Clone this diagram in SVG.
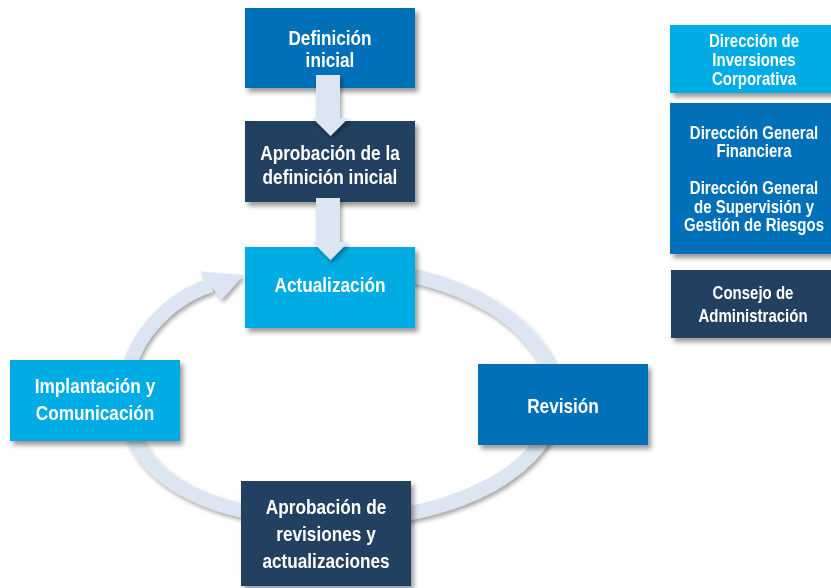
<svg xmlns="http://www.w3.org/2000/svg" width="831" height="588" viewBox="0 0 831 588">
<defs>
<filter id="sh" x="-20%" y="-20%" width="150%" height="150%">
<feDropShadow dx="3" dy="4" stdDeviation="2.5" flood-color="#000" flood-opacity="0.4"/>
</filter>
<filter id="shr" x="-20%" y="-20%" width="150%" height="150%">
<feDropShadow dx="2" dy="3" stdDeviation="2" flood-color="#000" flood-opacity="0.35"/>
</filter>
<style>
.t{font-family:"Liberation Sans",Arial,sans-serif;font-weight:bold;fill:#fff;text-anchor:middle}
.m{font-size:21px}
.l{font-size:18.3px}
.cyan{fill:#00ACE4}
.blue{fill:#0070B9}
.navy{fill:#243F5F}
.arr{fill:#DCE6F2}
</style>
</defs>
<rect width="831" height="588" fill="#fff"/>
<g id="connectors">
<g filter="url(#shr)">
<path d="M340,268 C459,268 555,327 555,400 C555,466 457,520 338,520 C205,520 125,476 125,395 C125,340 170,298 211,285" fill="none" stroke="#DCE6F2" stroke-width="14"/>
<polygon class="arr" points="200,271.5 243.5,275 221.7,299.5"/>
</g>
</g>
<g id="definicion" filter="url(#sh)">
<rect class="blue" x="245" y="8" width="170" height="80"/>
<text class="t m" transform="scale(0.82 1)" x="402.44" y="45">Definición</text>
<text class="t m" transform="scale(0.82 1)" x="402.44" y="67.5">inicial</text>
</g>
<g id="aprobacion-inicial" filter="url(#sh)">
<rect class="navy" x="245" y="121" width="170" height="81"/>
<text class="t m" transform="scale(0.82 1)" x="402.44" y="160.5">Aprobación de la</text>
<text class="t m" transform="scale(0.82 1)" x="402.44" y="184.5">definición inicial</text>
</g>
<g id="actualizacion" filter="url(#sh)">
<rect class="cyan" x="245" y="247" width="170" height="81"/>
<text class="t m" transform="scale(0.82 1)" x="402.44" y="292.3">Actualización</text>
</g>
<g id="implantacion" filter="url(#sh)">
<rect class="cyan" x="10" y="360" width="170" height="81"/>
<text class="t m" transform="scale(0.82 1)" x="115.85" y="393.5">Implantación y</text>
<text class="t m" transform="scale(0.82 1)" x="115.85" y="420.5">Comunicación</text>
</g>
<g id="revision" filter="url(#sh)">
<rect class="blue" x="478" y="364" width="170" height="81"/>
<text class="t m" transform="scale(0.82 1)" x="686.59" y="413.5">Revisión</text>
</g>
<g id="aprobacion-revisiones" filter="url(#sh)">
<rect class="navy" x="241" y="481" width="170" height="105"/>
<text class="t m" transform="scale(0.82 1)" x="397.56" y="514.5">Aprobación de</text>
<text class="t m" transform="scale(0.82 1)" x="397.56" y="541.5">revisiones y</text>
<text class="t m" transform="scale(0.82 1)" x="397.56" y="568.5">actualizaciones</text>
</g>
<g id="down-arrows" filter="url(#shr)">
<polygon class="arr" points="316,75 340,75 340,118 348.5,118 330.5,136 312.5,118 316,118"/>
<polygon class="arr" points="316,198 340,198 340,242 348.5,242 330.5,260 312.5,242 316,242"/>
</g>
<g id="dir-inversiones" filter="url(#sh)">
<rect class="cyan" x="670" y="25" width="170" height="68"/>
<text class="t l" transform="scale(0.82 1)" x="919.51" y="47.5">Dirección de</text>
<text class="t l" transform="scale(0.82 1)" x="919.51" y="66.5">Inversiones</text>
<text class="t l" transform="scale(0.82 1)" x="919.51" y="85.5">Corporativa</text>
</g>
<g id="dir-general" filter="url(#sh)">
<rect class="blue" x="670" y="103" width="170" height="151"/>
<text class="t l" transform="scale(0.82 1)" x="919.51" y="139">Dirección General</text>
<text class="t l" transform="scale(0.82 1)" x="919.51" y="157">Financiera</text>
<text class="t l" transform="scale(0.82 1)" x="919.51" y="194.5">Dirección General</text>
<text class="t l" transform="scale(0.82 1)" x="919.51" y="213">de Supervisión y</text>
<text class="t l" transform="scale(0.82 1)" x="919.51" y="231.5">Gestión de Riesgos</text>
</g>
<g id="consejo" filter="url(#sh)">
<rect class="navy" x="671" y="270" width="170" height="68"/>
<text class="t l" transform="scale(0.82 1)" x="918.29" y="299">Consejo de</text>
<text class="t l" transform="scale(0.82 1)" x="918.29" y="322.5">Administración</text>
</g>
</svg>
